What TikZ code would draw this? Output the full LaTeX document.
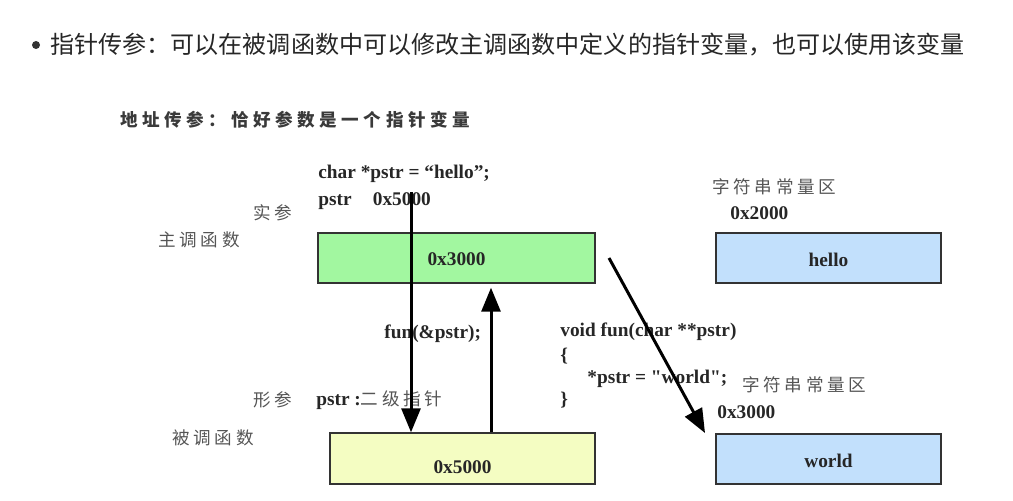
\documentclass[tikz,border=0pt]{standalone}
\usepackage{fontspec}
\setmainfont{Liberation Serif}
\newfontfamily\plainserif[Ligatures=NoCommon]{Liberation Serif}
\newfontfamily\cjk{Noto Sans CJK SC}
\usetikzlibrary{arrows.meta}
\newdimen\spk
\spk=2.1pt
\def\spc#1{\spcaux#1\relax}
\def\spcaux#1{\ifx#1\relax\else#1\kern\spk\expandafter\spcaux\fi}
\definecolor{gfill}{HTML}{A2F7A0}
\definecolor{bfill}{HTML}{C2E0FC}
\definecolor{yfill}{HTML}{F4FDC2}
\definecolor{lbl}{HTML}{555555}
\definecolor{hd}{HTML}{3A3A3A}
\tikzset{
  code/.style={anchor=west, inner sep=0pt, font=\fontsize{11}{13}\selectfont\bfseries, text=black!85},
  zh/.style={anchor=west, inner sep=0pt, font=\cjk\fontsize{10}{12}\selectfont, text=lbl},
  box/.style={draw=black!80, line width=0.8pt, minimum height=1cm, inner sep=0pt, font=\fontsize{11}{13}\selectfont\bfseries},
  boxtext/.style={inner sep=0pt, font=\fontsize{11}{13}\selectfont\bfseries, text=black!85},
  bigarrow/.style={line width=1.7pt, -{Triangle[length=0.48cm,width=0.38cm]}},
}
\begin{document}
\begin{tikzpicture}[x=0.02cm,y=-0.02cm]
\useasboundingbox (0,0) rectangle (1013,500);
% top bullet line
\fill[black!80] (36,45) circle (4);
\node[anchor=west, inner sep=0pt, font=\cjk\fontsize{13.7}{16}\selectfont, text=black!85] (title) at (50,45) {指针传参：可以在被调函数中可以修改主调函数中定义的指针变量，也可以使用该变量};
% subtitle
\node[zh, text=hd, font=\cjk\bfseries\fontsize{10}{12}\selectfont] (sub) at (120,120) {{\spk=2.6pt\spc{地址传参：恰好参数是一个指针变量}}};
% main function
\node[code] (c1) at (318,174) {char *pstr = “hello”;};
\node[code] (c2) at (318,201) {pstr\hspace{1.1em}0x5000};
\node[zh] (shican) at (253,213) {\spc{实参}};
\node[zh] (zhudiao) at (158,240) {\spc{主调函数}};
\node[box, fill=gfill, minimum width=5.54cm] (gbox) at (456.5,258) {};
\node[boxtext] (glab) at ([yshift=-0.03cm]gbox.center) {0x3000};
% string constant 1
\node[zh] (str1) at (712,187) {\spc{字符串常量区}};
\node[code] (a2000) at (730,213) {0x2000};
\node[box, fill=bfill, minimum width=4.5cm] (hbox) at (828.5,258) {};
\node[boxtext] (hlab) at ([yshift=-0.03cm]hbox.center) {hello};
% middle code
\node[code] (call) at (384,334) {fun(\&pstr);};
\node[code] (f1) at (560,332) {void fun(char **pstr)};
\node[code] (f2) at (560,356) {\{};
\node[code, font=\plainserif\fontsize{11}{13}\selectfont\bfseries] (f3) at (587,379) {*pstr = "world";};
\node[code] (f4) at (560,400) {\}};
% called function
\node[zh] (xingcan) at (253,400) {\spc{形参}};
\node[code] (p2) at (316,400) {pstr :{\cjk\mdseries\fontsize{10}{12}\selectfont\color{lbl}\spc{二级指针}}};
\node[zh] (beidiao) at (172,438) {\spc{被调函数}};
\node[box, fill=yfill, minimum width=5.3cm, minimum height=1.02cm] (ybox) at (462.5,458.5) {};
\node[boxtext] (ylab) at ([yshift=-0.17cm]ybox.center) {0x5000};
% string constant 2
\node[zh] (str2) at (742,385) {\spc{字符串常量区}};
\node[code] (a3000) at (717,412) {0x3000};
\node[box, fill=bfill, minimum width=4.5cm] (wbox) at (828.5,459) {};
\node[boxtext] (wlab) at ([yshift=-0.03cm]wbox.center) {world};
% arrows
\coordinate (dstart) at (411,192);
\coordinate (ustart) at (491,433);
\coordinate (dgs) at (609,258);
\coordinate (dge) at (705,433);
\draw[bigarrow] (dstart) -- (dstart |- ybox.north);
\draw[bigarrow] (ustart |- ybox.north) -- ([yshift=-0.08cm]ustart |- gbox.south);
\draw[bigarrow] (dgs) -- (dge);
\end{tikzpicture}
\end{document}
